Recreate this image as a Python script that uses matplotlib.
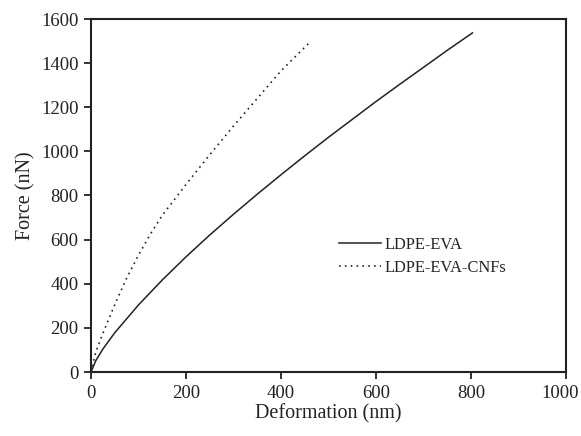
import matplotlib
matplotlib.use("Agg")
import matplotlib.pyplot as plt
import matplotlib.transforms as mtransforms

plt.rcParams['font.family'] = ['Liberation Serif', 'DejaVu Serif']

# LDPE-EVA (solid)
x_eva = [0, 10, 25, 50, 100, 150, 200, 250, 300, 350, 400, 450, 500, 550, 600, 650, 700, 750, 803]
y_eva = [0, 51, 104, 178, 304, 417, 522, 621, 715, 806, 894, 980, 1064, 1145, 1226, 1304, 1381, 1458, 1537]

# LDPE-EVA-CNFs (dotted)
x_cnf = [0, 10, 25, 50, 75, 100, 125, 150, 200, 250, 300, 350, 400, 458]
y_cnf = [0, 90, 175, 305, 425, 530, 625, 710, 850, 985, 1115, 1240, 1365, 1489]

labels = ["LDPE-EVA", "LDPE-EVA-CNFs"]
xticks = [0, 200, 400, 600, 800, 1000]
yticks = [0, 200, 400, 600, 800, 1000, 1200, 1400, 1600]

fig = plt.figure(figsize=(5.81, 4.36), dpi=100)
ax = fig.add_axes([91/581, 1 - 372/436, 475/581, 353/436])

ax.plot(x_eva, y_eva, color='#222222', lw=1.1, label=labels[0])
ax.plot(x_cnf, y_cnf, color='#222222', lw=1.2, linestyle=(0, (1, 2.5)), label=labels[1])

ax.set_xlim(0, 1000)
ax.set_ylim(0, 1600)
ax.set_xticks(xticks)
ax.set_yticks(yticks)
ax.tick_params(direction='out', length=5, width=1.3, labelsize=13.5, colors='#222222', pad=4)
for s in ax.spines.values():
    s.set_linewidth(1.5)
    s.set_color('#222222')

# nudge the last x tick label left so it stays inside the figure
last = ax.get_xticklabels()[-1]
last.set_transform(last.get_transform() + mtransforms.ScaledTranslation(-6/100, 0, fig.dpi_scale_trans))

ax.set_xlabel("Deformation (nm)", fontsize=14.5, color='#222222', labelpad=2)
ax.set_ylabel("Force (nN)", fontsize=14.5, color='#222222', labelpad=4)

leg = ax.legend(loc='upper left', bbox_to_anchor=(0.494, 0.419), frameon=False,
                fontsize=11.8, handlelength=2.55, handletextpad=0.25, labelspacing=0.4,
                borderpad=0.3)
for t in leg.get_texts():
    t.set_color('#222222')

fig.savefig("out.png", dpi=100)
